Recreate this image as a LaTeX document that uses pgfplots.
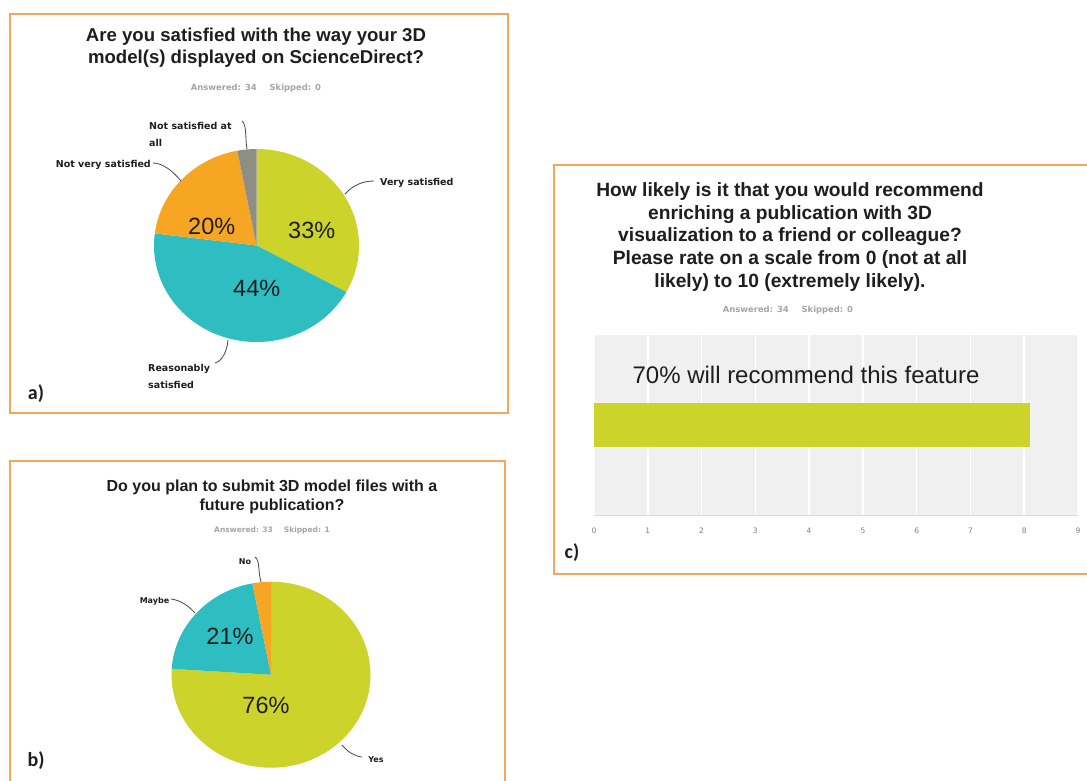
\documentclass[border=0pt]{standalone}
\usepackage{pgfplots}
\pgfplotsset{compat=1.18}
\usepackage{fontspec}
\setmainfont{Liberation Sans}
\newfontfamily\dv{DejaVu Sans}
\newfontfamily\carl{Carlito}

\definecolor{yg}{RGB}{204,211,42}
\definecolor{tl}{RGB}{46,189,193}
\definecolor{org}{RGB}{246,166,35}
\definecolor{gy}{RGB}{142,142,133}
\definecolor{frame}{RGB}{240,168,96}
\definecolor{ans}{RGB}{165,165,165}
\definecolor{lead}{RGB}{70,70,70}
\definecolor{txt}{RGB}{30,30,30}

% #1 cumulative percent before slice, #2 percent, #3 colour, #4 x radius, #5 y radius
\newcommand{\slice}[5]{%
  \fill[#3] (axis cs:0,0) -- (axis cs:{#4*cos(90-3.6*#1)},{#5*sin(90-3.6*#1)})
    arc[start angle={90-3.6*#1}, end angle={90-3.6*(#1+#2)}, x radius=#4, y radius=#5] -- cycle;}

\begin{document}
\begin{tikzpicture}
\begin{scope}[x=1pt,y=-1pt]
\path[use as bounding box] (0,0) rectangle (1087,780);
\fill[white] (0,0) rectangle (1087,780);
\end{scope}
\clip (0pt,0pt) rectangle (1087pt,-780pt);

% ---------------- axes ----------------
\begin{axis}[at={(256.5pt,-245.5pt)}, anchor=center, x=1pt, y=1pt, scale only axis,
  xmin=-110, xmax=110, ymin=-110, ymax=110, hide axis, clip=false]
\addplot[draw=none] coordinates {(0,0)};
\slice{0}{33}{yg}{102.5}{96.5}
\slice{33}{44}{tl}{102.5}{96.5}
\slice{77}{20}{org}{102.5}{96.5}
\slice{97}{3}{gy}{102.5}{96.5}
\end{axis}

\begin{axis}[at={(271pt,-674.7pt)}, anchor=center, x=1pt, y=1pt, scale only axis,
  xmin=-110, xmax=110, ymin=-110, ymax=110, hide axis, clip=false]
\addplot[draw=none] coordinates {(0,0)};
\slice{0}{76}{yg}{99.5}{93}
\slice{76}{21}{tl}{99.5}{93}
\slice{97}{3}{org}{99.5}{93}
\end{axis}

\begin{axis}[at={(594pt,-335pt)}, anchor=north west, scale only axis,
  width=484pt, height=180pt,
  xmin=0, xmax=9, ymin=-1, ymax=1,
  xbar, bar width=44pt,
  axis background/.style={fill=gray!12},
  xmajorgrids, grid style={white, line width=1.5pt},
  axis line style={draw=none},
  ytick=\empty, xtick={0,1,2,3,4,5,6,7,8,9},
  major tick length=0pt,
  /pgf/number format/assume math mode=true,
  xticklabel style={font=\dv\fontsize{7.5}{9}\selectfont, text=gray, yshift=-9pt}]
\addplot[fill=yg, draw=none] coordinates {(8.1,0)};
\draw[gray!30, line width=1pt] (rel axis cs:0,0) -- (rel axis cs:1,0);
\end{axis}

\begin{scope}[x=1pt,y=-1pt]
% frames
\draw[frame, line width=1.6pt] (10,14) rectangle (508,413);
\draw[frame, line width=1.6pt] (10,800) -- (10,461) -- (505,461) -- (505,800);
\draw[frame, line width=1.6pt] (1100,165) -- (554,165) -- (554,574) -- (1100,574);

% ---------------- panel a ----------------
\node[align=center, text=txt, font=\bfseries\fontsize{18.6}{22}\selectfont] at (256,48)
  {Are you satisfied with the way your 3D\\model(s) displayed on ScienceDirect?};
\node[text=ans, font=\dv\bfseries\fontsize{8.4}{10}\selectfont] at (256,88)
  {Answered: 34\hspace{13pt}Skipped: 0};

\begin{scope}[font=\fontsize{23.5}{26}\selectfont, text=txt, inner sep=0pt]
\node at (311.7,230.7) {33\%};
\node at (211.7,226.7) {20\%};
\node at (256.7,288.3) {44\%};
\node at (230,636.7) {21\%};
\node at (266,705.7) {76\%};
\end{scope}

\begin{scope}[font=\dv\bfseries\fontsize{9.5}{17}\selectfont, text=txt, inner sep=0pt]
\node[anchor=west] at (380,183) {Very satisfied};
\node[anchor=east] at (151,165) {Not very satisfied};
\node[anchor=west, align=left] at (149,134.5) {Not satisfied at\\all};
\node[anchor=west, align=left] at (148,376.5) {Reasonably\\satisfied};
\end{scope}
\begin{scope}[lead, line width=0.8pt]
\draw (345,194) .. controls (352,186) and (362,181) .. (374,181);
\draw (153,163) .. controls (162,163) and (172,170) .. (181,181);
\draw (242,121) .. controls (247,125) and (245,138) .. (247,149);
\draw (228,340) .. controls (227,352) and (222,361) .. (215,363);
\end{scope}
\node[font=\carl\bfseries\fontsize{20}{22}\selectfont, text=txt] at (36,394) {a)};

% ---------------- panel b ----------------
\node[align=center, text=txt, font=\bfseries\fontsize{16}{19.5}\selectfont] at (272,497)
  {Do you plan to submit 3D model files with a\\future publication?};
\node[text=ans, font=\dv\bfseries\fontsize{7.5}{9}\selectfont] at (272,530)
  {Answered: 33\hspace{11pt}Skipped: 1};

\begin{scope}[font=\dv\bfseries\fontsize{8}{10}\selectfont, text=txt, inner sep=0pt]
\node at (245,561.7) {No};
\node at (154.5,601) {Maybe};
\node at (376,760) {Yes};
\end{scope}
\begin{scope}[lead, line width=0.8pt]
\draw (255,557) .. controls (260,560) and (258,572) .. (261,582);
\draw (171,599) .. controls (180,600) and (189,606) .. (195,613);
\draw (342,745) .. controls (348,752) and (354,756) .. (362,757);
\end{scope}
\node[font=\carl\bfseries\fontsize{20}{22}\selectfont, text=txt] at (36,761) {b)};

% ---------------- panel c ----------------
\node[align=center, text=txt, font=\bfseries\fontsize{19.2}{22.8}\selectfont] at (790,237)
  {How likely is it that you would recommend\\enriching a publication with 3D\\visualization to a friend or colleague?\\Please rate on a scale from 0 (not at all\\likely) to 10 (extremely likely).};
\node[text=ans, font=\dv\bfseries\fontsize{8.4}{10}\selectfont] at (788,310)
  {Answered: 34\hspace{13pt}Skipped: 0};

\node[text=txt, font=\fontsize{24}{26}\selectfont, inner sep=0pt] at (806,375)
  {70\% will recommend this feature};
\node[font=\carl\bfseries\fontsize{20}{22}\selectfont, text=txt] at (572,553) {c)};
\end{scope}
\end{tikzpicture}
\end{document}
